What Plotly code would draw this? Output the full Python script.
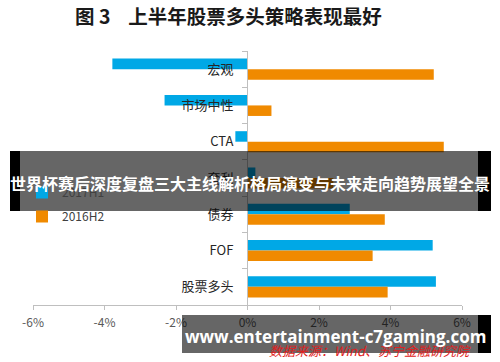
import plotly.graph_objects as go

# ---- data ----
categories = ["宏观", "市场中性", "CTA", "套利", "债券", "FOF", "股票多头"]
series_names = ["2017H1", "2016H2"]
values_2017h1 = [-3.78, -2.32, -0.34, 0.22, 2.86, 5.18, 5.27]
values_2016h2 = [5.21, 0.67, 5.49, 2.4, 3.84, 3.50, 3.92]
x_tickvals = [-6, -4, -2, 0, 2, 4, 6]
x_ticktext = ["-6%", "-4%", "-2%", "0%", "2%", "4%", "6%"]

title_text = "图 3    上半年股票多头策略表现最好"
banner_text = "世界杯赛后深度复盘三大主线解析格局演变与未来走向趋势展望全景"
watermark_text = "www.entertainment-c7gaming.com"
source_text = "数据来源：Wind、苏宁金融研究院"

BLUE = "#00A8E6"
ORANGE = "#F08A00"
FONT = "Noto Sans CJK SC"

# pixel -> paper helpers (plot area 33..462 x 51..305)
L, R, T, B = 33, 462, 51, 305
def fx(px):
    return (px - L) / (R - L)
def fy(py):
    return (B - py) / (B - T)

fig = go.Figure()
fig.add_trace(go.Bar(y=categories, x=values_2017h1, orientation="h", name=series_names[0],
                     marker=dict(color=BLUE, line=dict(width=0)), legendgroup="a"))
fig.add_trace(go.Bar(y=categories, x=values_2016h2, orientation="h", name=series_names[1],
                     marker=dict(color=ORANGE, line=dict(width=0)), legendgroup="b"))

fig.update_layout(
    width=500, height=362,
    margin=dict(l=L, r=500 - R, t=T, b=362 - B),
    paper_bgcolor="white", plot_bgcolor="white",
    barmode="group", bargap=0.42, bargroupgap=0,
    font=dict(family=FONT, color="#333333"),
    showlegend=True,
    legend=dict(x=0, y=fy(178), xanchor="left", yanchor="top",
                font=dict(size=12, color="#404040", family=FONT),
                tracegroupgap=5, traceorder="grouped", itemwidth=30,
                indentation=-11,
                bgcolor="rgba(0,0,0,0)"),
    xaxis=dict(range=[-6, 6], tickvals=x_tickvals, ticktext=x_ticktext, automargin=False,
               showgrid=False, zeroline=False, showline=True, linecolor="#BFBFBF",
               linewidth=1, ticks="outside", ticklen=4, tickcolor="#BFBFBF",
               tickfont=dict(size=12, color="#595959", family=FONT),
               ticklabelstandoff=3, fixedrange=True),
    yaxis=dict(autorange="reversed", anchor="free", position=fx(247), automargin=False,
               showgrid=False, zeroline=False, showline=True, linecolor="#BFBFBF",
               linewidth=1, ticks="outside", tickson="boundaries", ticklen=5,
               tickcolor="#BFBFBF", tickfont=dict(size=13, color="#262626", family=FONT),
               ticklabelstandoff=11, fixedrange=True),
)

shapes = []
def rect(x0, x1, y0, y1, color):
    shapes.append(dict(type="rect", xref="paper", yref="paper",
                       x0=fx(x0), x1=fx(x1), y0=fy(y1), y1=fy(y0),
                       fillcolor=color, line=dict(width=0), layer="above"))

# overlay banner
rect(10, 20, 151, 211, "black")
rect(20, 478, 151, 211, "rgba(0,0,0,0.6)")
rect(478, 491, 151, 211, "black")
# bottom watermark box
rect(182, 478, 315, 353, "rgba(0,0,0,0.6)")
rect(478, 491, 315, 353, "black")
fig.update_layout(shapes=shapes)

annotations = [
    dict(text="<b>" + title_text + "</b>", x=fx(228), y=fy(15), xref="paper", yref="paper",
         showarrow=False, xanchor="center", yanchor="middle",
         font=dict(size=19.5, color="#1a1a1a", family=FONT)),
    dict(text=source_text, x=fx(370), y=fy(350), xref="paper", yref="paper",
         showarrow=False, xanchor="center", yanchor="middle",
         font=dict(size=13, color="#E02020", family=FONT, style="italic")),
    dict(text="<b>" + banner_text + "</b>", x=fx(250), y=fy(183), xref="paper", yref="paper",
         showarrow=False, xanchor="center", yanchor="middle",
         font=dict(size=16, color="white", family=FONT)),
    dict(text="<b>" + watermark_text + "</b>", x=fx(335), y=fy(336), xref="paper", yref="paper",
         showarrow=False, xanchor="center", yanchor="middle",
         font=dict(size=17, color="white", family="Open Sans")),
]
fig.update_layout(annotations=annotations)

fig.write_html("out.html", config={"displayModeBar": False},
               post_script="document.body.style.margin='0';document.body.style.overflow='hidden';")
